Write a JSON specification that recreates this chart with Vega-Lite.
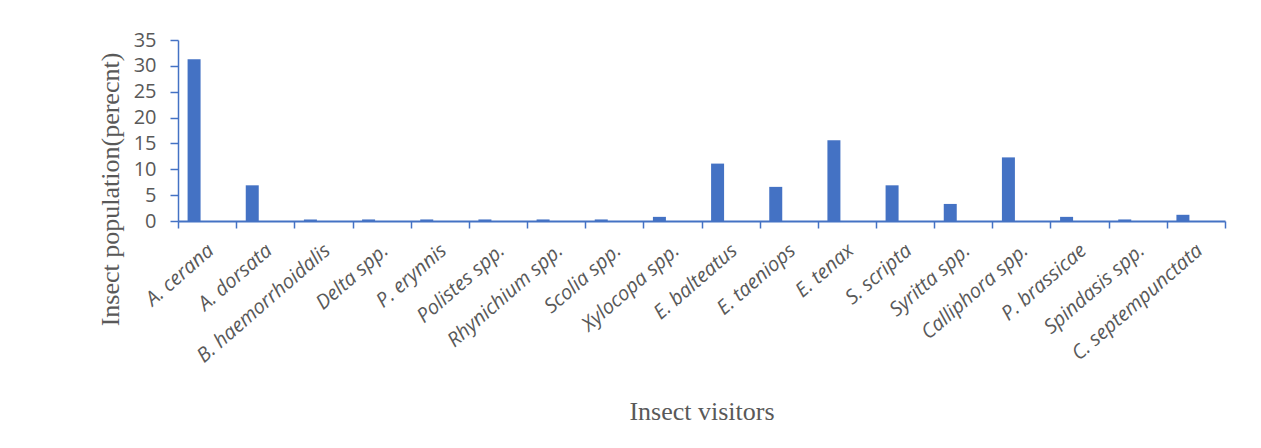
{
  "$schema": "https://vega.github.io/schema/vega-lite/v6.json",
  "width": 1047,
  "height": 181,
  "autosize": {"type": "none"},
  "padding": {"left": 178, "top": 40, "right": 36, "bottom": 227},
  "background": "white",
  "config": {"view": {"stroke": null}},
  "data": {
    "values": [
      {"visitor": "A. cerana", "percent": 31.3},
      {"visitor": "A. dorsata", "percent": 6.9},
      {"visitor": "B. haemorrhoidalis", "percent": 0.3},
      {"visitor": "Delta spp.", "percent": 0.3},
      {"visitor": "P. erynnis", "percent": 0.3},
      {"visitor": "Polistes spp.", "percent": 0.3},
      {"visitor": "Rhynichium spp.", "percent": 0.3},
      {"visitor": "Scolia spp.", "percent": 0.3},
      {"visitor": "Xylocopa spp.", "percent": 0.8},
      {"visitor": "E. balteatus", "percent": 11.1},
      {"visitor": "E. taeniops", "percent": 6.6},
      {"visitor": "E. tenax", "percent": 15.6},
      {"visitor": "S. scripta", "percent": 6.9},
      {"visitor": "Syritta spp.", "percent": 3.3},
      {"visitor": "Calliphora spp.", "percent": 12.3},
      {"visitor": "P. brassicae", "percent": 0.8},
      {"visitor": "Spindasis spp.", "percent": 0.3},
      {"visitor": "C. septempunctata", "percent": 1.2}
    ]
  },
  "mark": {"type": "bar", "color": "#4472C4", "width": 13, "xOffset": -13},
  "encoding": {
    "x": {
      "field": "visitor",
      "type": "nominal",
      "sort": null,
      "scale": {"paddingInner": 0, "paddingOuter": 0},
      "axis": {
        "title": "Insect visitors",
        "titleFont": "Liberation Serif",
        "titleFontSize": 26,
        "titleFontWeight": "normal",
        "titleColor": "#595959",
        "titleBaseline": "alphabetic",
        "titleY": 198,
        "labelAngle": -41,
        "labelFont": "Open Sans",
        "labelFontStyle": "italic",
        "labelFontSize": 20,
        "labelColor": "#595959",
        "labelPadding": 12,
        "labelOffset": -3,
        "tickBand": "extent",
        "tickSize": 7,
        "tickColor": "#4472C4",
        "tickWidth": 1.5,
        "domainColor": "#4472C4",
        "domainWidth": 2
      }
    },
    "y": {
      "field": "percent",
      "type": "quantitative",
      "scale": {"domain": [0, 35], "nice": false},
      "axis": {
        "title": "Insect population(perecnt)",
        "titleFont": "Liberation Serif",
        "titleFontSize": 26,
        "titleFontWeight": "normal",
        "titleColor": "#595959",
        "titleAngle": -90,
        "titleAlign": "center",
        "titleBaseline": "middle",
        "titleX": -68,
        "titleY": 149,
        "values": [0, 5, 10, 15, 20, 25, 30, 35],
        "grid": false,
        "labelFont": "Open Sans",
        "labelFontSize": 20,
        "labelColor": "#595959",
        "labelPadding": 14,
        "tickSize": 8,
        "tickColor": "#4472C4",
        "tickWidth": 1.5,
        "domainColor": "#4472C4",
        "domainWidth": 1.5
      }
    }
  }
}
